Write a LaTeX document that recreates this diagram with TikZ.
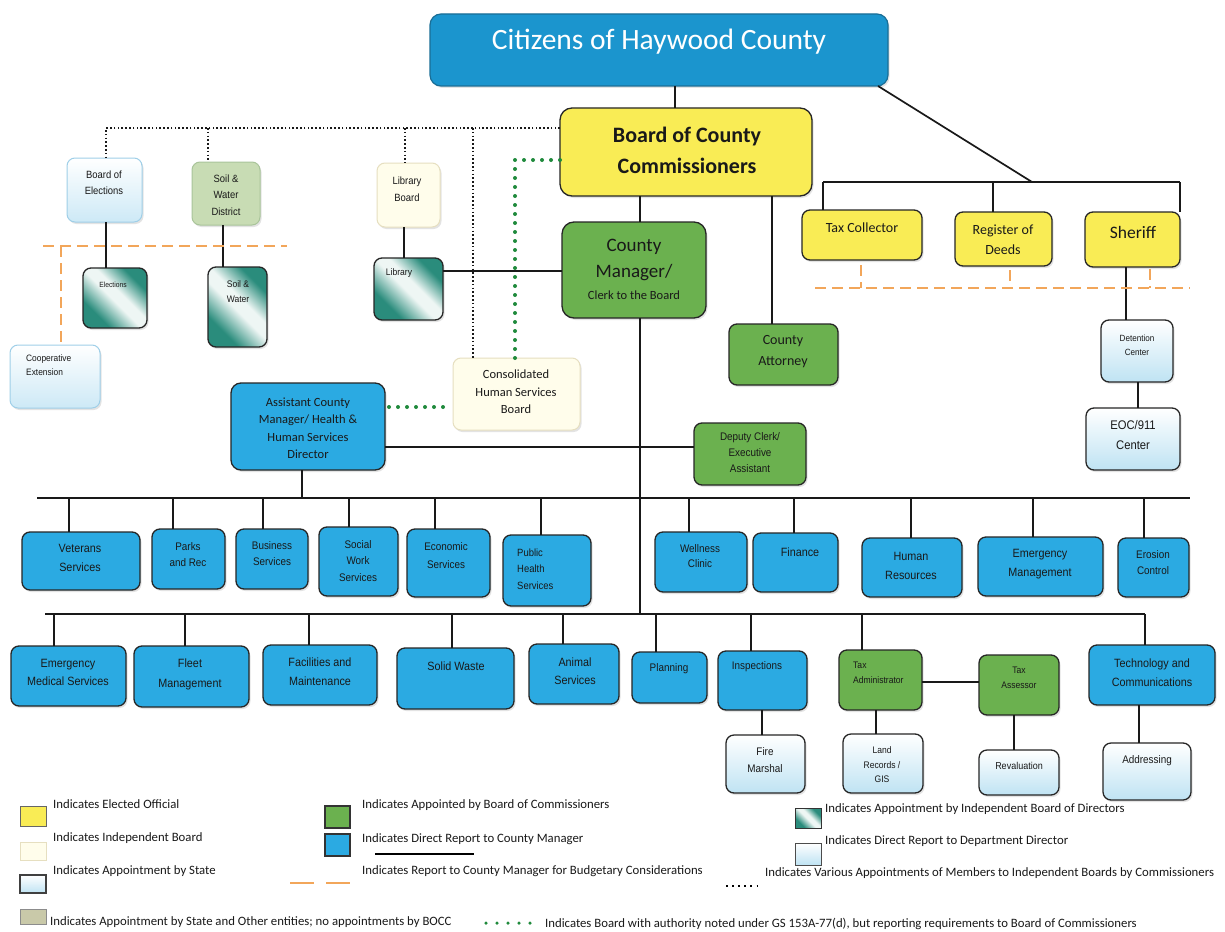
\documentclass[tikz,border=0pt]{standalone}
\usepackage{fontspec}
\setmainfont{Carlito}
\newfontfamily\arn{Liberation Sans}[FakeStretch=0.9]
\usetikzlibrary{calc,shadows}
\definecolor{citblue}{HTML}{1B95CE}
\definecolor{citborder}{HTML}{1A6E96}
\definecolor{yel}{HTML}{F9EC55}
\definecolor{grn}{HTML}{6BB14F}
\definecolor{blu}{HTML}{2BAAE2}
\definecolor{pale}{HTML}{BFE3F3}
\definecolor{palel}{HTML}{CDE9F6}
\definecolor{paleb}{HTML}{9FCFE8}
\definecolor{cream}{HTML}{FFFDEB}
\definecolor{creamb}{HTML}{E6DFC0}
\definecolor{sage}{HTML}{C8DCB4}
\definecolor{sageb}{HTML}{A9C49A}
\definecolor{tealg}{HTML}{2A8C7C}
\definecolor{teall}{HTML}{EEF6F4}
\definecolor{orng}{HTML}{F2A65A}
\definecolor{dgreen}{HTML}{1F8A3C}
\definecolor{legsage}{HTML}{C9C9A9}
\pgfdeclareverticalshading{tealsh}{100bp}{color(0bp)=(tealg); color(30bp)=(tealg); color(48bp)=(teall); color(56bp)=(teall); color(72bp)=(tealg); color(100bp)=(tealg)}
\newcommand\arf[2]{\arn\fontsize{#1}{#2}\selectfont}
\newcommand\clf[2]{\fontsize{#1}{#2}\selectfont}
\newcommand\mkbox[6]{%
 \pgfmathsetmacro\mkcx{(#2+#4)/2}%
 \pgfmathsetmacro\mkcy{(#3+#5)/2}%
 \pgfmathsetmacro\mkw{#4-#2}%
 \pgfmathsetmacro\mkh{#5-#3}%
 \node[#6, minimum width=\mkw pt, minimum height=\mkh pt] (#1) at (\mkcx,\mkcy) {};}
\tikzset{
 bx/.style={rectangle, rounded corners=8pt, line width=1.3pt, draw=black!85, inner sep=0pt, outer sep=0pt,
   drop shadow={opacity=0.22, shadow xshift=1.5pt, shadow yshift=-2pt}},
 elect/.style={bx, fill=yel},
 appt/.style={bx, fill=grn},
 drep/.style={bx, fill=blu},
 dirr/.style={bx, top color=white, bottom color=pale},
 stat/.style={bx, draw=paleb, line width=1pt, top color=white, bottom color=palel},
 indb/.style={bx, draw=creamb, line width=1pt, fill=cream},
 sagebox/.style={bx, draw=sageb, line width=1pt, fill=sage},
 tealbox/.style={bx, shading=tealsh, shading angle=-45},
 tx/.style={align=center, inner sep=0pt, text=black!90},
 ln/.style={line width=2.4pt, draw=black!90},
 lnt/.style={line width=1.7pt, draw=black!90},
 dotl/.style={line width=1.6pt, draw=black!90, dash pattern=on 1.6pt off 2.2pt},
 gdot/.style={draw=dgreen, line width=4pt, line cap=round, dash pattern=on 0pt off 9pt},
 odash/.style={draw=orng, line width=1.4pt, dash pattern=on 11pt off 6pt},
 leg/.style={anchor=west, inner sep=0pt, font=\clf{12.75}{14}, text=black!90},
 sw/.style={rectangle, inner sep=0pt, outer sep=0pt, line width=1pt}
}
\begin{document}
\begin{tikzpicture}[x=1pt,y=-1pt]
\useasboundingbox (0,0) rectangle (1225,931);
\fill[white] (0,0) rectangle (1225,931);

\coordinate (dotL) at (106,128);
\coordinate (gd) at (515,160);
\coordinate (tbarL) at (823,182);
\coordinate (tbarR) at (1180,182);
\coordinate (oL) at (43,246);
\coordinate (oR) at (287,246);
\coordinate (oRL) at (815,288);
\coordinate (oRR) at (1190,288);
\coordinate (b1L) at (37,498);
\coordinate (b1R) at (1190,498);
\coordinate (b2L) at (45,614);
\coordinate (b2R) at (1145,614);

% ---------- boxes ----------
\mkbox{cit}{430}{14}{888}{86}{bx, rounded corners=11pt, fill=citblue, draw=citborder, line width=1.2pt}
\mkbox{boc}{560}{108}{812}{196}{elect, rounded corners=12pt}
\mkbox{cm}{562}{222}{706}{318}{appt, rounded corners=12pt}
\mkbox{att}{729}{324}{838}{385}{appt}
\mkbox{taxc}{802}{210}{922}{260}{elect}
\mkbox{reg}{955}{212}{1052}{266}{elect}
\mkbox{sher}{1085}{212}{1180}{267}{elect}
\mkbox{det}{1101}{320}{1173}{382}{dirr}
\mkbox{eoc}{1086}{408}{1180}{470}{dirr}
\mkbox{dep}{694}{423}{806}{485}{appt}
\mkbox{acm}{231}{383}{385}{470}{drep, rounded corners=10pt}
\mkbox{chs}{453}{358}{580}{430}{indb}
\mkbox{boe}{67}{158}{142}{222}{stat}
\mkbox{swd}{192}{162}{260}{225}{sagebox}
\mkbox{lbd}{377}{163}{440}{227}{indb}
\mkbox{elec}{83}{268}{147}{328}{tealbox}
\mkbox{swr}{208}{267}{267}{347}{tealbox}
\mkbox{lib}{374}{258}{443}{320}{tealbox}
\mkbox{coop}{10}{345}{100}{408}{stat}
% row 1
\mkbox{vet}{22}{532}{140}{590}{drep}
\mkbox{parks}{152}{529}{225}{589}{drep}
\mkbox{bus}{236}{529}{308}{589}{drep}
\mkbox{soc}{319}{527}{398}{596}{drep}
\mkbox{eco}{407}{529}{490}{597}{drep}
\mkbox{pub}{503}{535}{591}{606}{drep}
\mkbox{well}{655}{532}{747}{592}{drep}
\mkbox{fin}{753}{533}{838}{592}{drep}
\mkbox{hr}{862}{538}{962}{597}{drep}
\mkbox{em}{978}{537}{1103}{596}{drep}
\mkbox{ero}{1118}{538}{1189}{597}{drep}
% row 2
\mkbox{ems}{11}{646}{126}{706}{drep}
\mkbox{fleet}{134}{646}{249}{707}{drep}
\mkbox{fac}{263}{645}{377}{705}{drep}
\mkbox{sol}{397}{648}{514}{709}{drep}
\mkbox{ani}{529}{644}{619}{704}{drep}
\mkbox{plan}{632}{652}{707}{703}{drep}
\mkbox{insp}{718}{651}{807}{710}{drep}
\mkbox{tadm}{839}{650}{922}{710}{appt}
\mkbox{tass}{979}{655}{1059}{715}{appt}
\mkbox{tech}{1089}{645}{1215}{705}{drep}
\mkbox{fire}{726}{735}{805}{793}{dirr}
\mkbox{land}{843}{734}{923}{793}{dirr}
\mkbox{rev}{979}{750}{1059}{795}{dirr}
\mkbox{addr}{1103}{743}{1191}{800}{dirr}

% ---------- connectors ----------
\draw[lnt] (cit.south -| 675,0) -- (boc.north -| 675,0);
\draw[lnt] (cit.south -| 878,0) -- (tbarL -| 1032,0);
\draw[lnt] (tbarL) -- (tbarR);
\draw[lnt] (tbarL) -- (taxc.north -| tbarL);
\draw[lnt] (tbarL -| 993,0) -- (reg.north -| 993,0);
\draw[lnt] (tbarR) -- (sher.north -| tbarR);
\draw[lnt] (boc.south -| 772,0) -- (att.north -| 772,0);
\draw[lnt] (boc.south -| 640,0) -- (cm.north -| 640,0);
\draw[ln] (cm.south -| 640,0) -- (b2L -| 640,0);
\draw[ln, line width=2.8pt] (acm.east |- 0,447) -- (dep.west |- 0,447);
\draw[ln] (acm.south -| 302,0) -- (b1L -| 302,0);
\draw[lnt] (lib.east |- 0,271) -- (cm.west |- 0,271);
\draw[ln] (lbd.south -| 404,0) -- (lib.north -| 404,0);
\draw[ln] (boe.south -| 106,0) -- (elec.north -| 106,0);
\draw[ln] (swd.south -| 223,0) -- (swr.north -| 223,0);
\draw[ln] (sher.south -| 1126,0) -- (det.north -| 1126,0);
\draw[ln] (det.south -| 1138,0) -- (eoc.north -| 1138,0);
% dotted appointments
\draw[dotl] (boc.west |- dotL) -- (dotL) -- (boe.north -| dotL);
\draw[dotl] (dotL -| 208,0) -- (swd.north -| 208,0);
\draw[dotl] (dotL -| 405,0) -- (lbd.north -| 405,0);
\draw[dotl] (dotL -| 473,0) -- (chs.north -| 473,0);
% green dotted
\draw[gdot] (boc.west |- gd) -- (gd) -- (chs.north -| gd);
\draw[gdot, shorten <=4pt, shorten >=3pt] (acm.east |- 0,407) -- (chs.west |- 0,407);
% orange dashed
\draw[odash] (oL) -- (oR);
\draw[odash] (oL -| 61,0) -- (coop.north -| 61,0);
\draw[odash] (oRL) -- (oRR);
\draw[odash, shorten <=5pt] (taxc.south -| 861,0) -- (oRL -| 861,0);
\draw[odash, shorten <=4pt] (reg.south -| 1010,0) -- (oRL -| 1010,0);
\draw[odash, shorten <=2pt] (sher.south -| 1150,0) -- (oRL -| 1150,0);
% bars
\draw[ln] (b1L) -- (b1R);
\draw[ln] (b2L) -- (b2R);
\foreach \xx/\nn in {69/vet,173/parks,263/bus,349/soc,435/eco,541/pub,689/well,794/fin,911/hr,1033/em,1144/ero}
  \draw[ln] (b1L -| \xx,0) -- (\nn.north -| \xx,0);
\foreach \xx/\nn in {54/ems,185/fleet,309/fac,452/sol,563/ani,656/plan,751/insp,862/tadm,1145/tech}
  \draw[ln] (b2L -| \xx,0) -- (\nn.north -| \xx,0);
\draw[ln] (insp.south -| 762,0) -- (fire.north -| 762,0);
\draw[ln] (tadm.south -| 876,0) -- (land.north -| 876,0);
\draw[ln] (tass.south -| 1014,0) -- (rev.north -| 1014,0);
\draw[ln] (tech.south -| 1139,0) -- (addr.north -| 1139,0);
\draw[ln] (tadm.east |- 0,682) -- (tass.west |- 0,682);

% ---------- texts ----------
\node[tx, text=white, font=\clf{29.5}{34}] (cit-t) at (659,42) {Citizens of Haywood County};
\node[tx, font=\bfseries\clf{22}{31}] (boc-t) at (687,150) {Board of County\\Commissioners};
\node[tx, font=\clf{19}{26}] (cm-t) at (634,260) {County\\Manager/};
\node[tx, font=\clf{12.5}{14}] (cm-t2) at (634,295) {Clerk to the Board};
\node[tx, font=\clf{14}{21}] (att-t) at (783,352) {County\\Attorney};
\node[tx, font=\clf{14}{16}] (taxc-t) at (862,228) {Tax Collector};
\node[tx, font=\clf{14}{20}] (reg-t) at (1003,240) {Register of\\Deeds};
\node[tx, font=\clf{17.5}{20}] (sher-t) at (1133,232) {Sheriff};
\node[tx, font=\arf{9}{14}] (det-t) at (1137,345) {Detention\\Center};
\node[tx, font=\arf{12.5}{20}] (eoc-t) at (1133,435) {EOC/911\\Center};
\node[tx, font=\arf{11}{16}] (dep-t) at (750,453) {Deputy Clerk/\\Executive\\Assistant};
\node[tx, font=\clf{12.5}{17.5}] (acm-t) at (308,428) {Assistant County\\Manager/ Health \&\\Human Services\\Director};
\node[tx, font=\clf{12.5}{17.5}] (chs-t) at (516,392) {Consolidated\\Human Services\\Board};
\node[tx, font=\arf{10.5}{16}] (boe-t) at (104,183) {Board of\\Elections};
\begin{scope}
\clip (192,162) rectangle (260,214);
\node[tx, font=\arf{10.5}{16.5}] (swd-t) at (226,195) {Soil \&\\Water\\District};
\end{scope}
\node[tx, font=\arf{10.5}{16.5}] (lbd-t) at (407,189) {Library\\Board};
\node[tx, font=\arf{7.5}{8}] (elec-t) at (113,285) {Elections};
\node[tx, font=\arf{9.5}{15}] (swr-t) at (238,292) {Soil \&\\Water};
\node[tx, font=\arf{9.5}{10}] (lib-t) at (399,273) {Library};
\node[tx, align=left, anchor=west, font=\arf{9.3}{14}] (coop-t) at (26,365) {Cooperative\\Extension};
% row 1 texts
\node[tx, font=\arf{12}{19}] (vet-t) at (80,558) {Veterans\\Services};
\node[tx, font=\arf{11}{16}] (parks-t) at (188,555) {Parks\\and Rec};
\node[tx, font=\arf{11}{16}] (bus-t) at (272,554) {Business\\Services};
\node[tx, font=\arf{11}{16.5}] (soc-t) at (358,561) {Social\\Work\\Services};
\node[tx, font=\arf{11}{18}] (eco-t) at (446,556) {Economic\\Services};
\node[tx, align=left, anchor=west, font=\arf{10.5}{16.5}] (pub-t) at (517,569) {Public\\Health\\Services};
\node[tx, font=\arf{11}{15}] (well-t) at (700,556) {Wellness\\Clinic};
\node[tx, font=\arf{12}{14}] (fin-t) at (800,552) {Finance};
\node[tx, font=\arf{12}{19}] (hr-t) at (911,566) {Human\\Resources};
\node[tx, font=\arf{12}{19}] (em-t) at (1040,564) {Emergency\\Management};
\node[tx, font=\arf{11}{16}] (ero-t) at (1153,563) {Erosion\\Control};
% row 2 texts
\node[tx, font=\arf{12}{18}] (ems-t) at (68,672) {Emergency\\Medical Services};
\node[tx, font=\arf{12}{20}] (fleet-t) at (190,674) {Fleet\\Management};
\node[tx, font=\arf{12}{19}] (fac-t) at (320,672) {Facilities and\\Maintenance};
\node[tx, font=\arf{12}{14}] (sol-t) at (456,666) {Solid Waste};
\node[tx, font=\arf{12}{18}] (ani-t) at (575,671) {Animal\\Services};
\node[tx, font=\arf{11}{13}] (plan-t) at (669,669) {Planning};
\node[tx, font=\arf{11}{13}] (insp-t) at (757,667) {Inspections};
\node[tx, align=left, anchor=west, font=\arf{9.5}{15}] (tadm-t) at (853,673) {Tax\\Administrator};
\node[tx, font=\arf{9.5}{15}] (tass-t) at (1019,678) {Tax\\Assessor};
\node[tx, font=\arf{12}{19}] (tech-t) at (1152,673) {Technology and\\Communications};
\node[tx, font=\arf{11}{17}] (fire-t) at (765,760) {Fire\\Marshal};
\node[tx, font=\arf{9.5}{14.5}] (land-t) at (882,765) {Land\\Records /\\GIS};
\node[tx, font=\arf{10}{12}] (rev-t) at (1019,766) {Revaluation};
\node[tx, font=\arf{11}{13}] (addr-t) at (1147,761) {Addressing};

% ---------- legend ----------
\node[sw, fill=yel, draw=black!60, minimum width=26pt, minimum height=20pt] (s1) at (33,816) {};
\node[sw, fill=cream, draw=creamb, minimum width=26pt, minimum height=18pt] (s2) at (33,851) {};
\node[sw, top color=white, bottom color=pale, draw=black!75, line width=1.2pt, minimum width=26pt, minimum height=18pt] (s3) at (33,884) {};
\node[sw, fill=legsage, draw=black!45, minimum width=26pt, minimum height=15pt] (s4) at (33,917) {};
\node[sw, fill=grn, draw=black!80, line width=1.2pt, minimum width=25pt, minimum height=22pt] (s5) at (337.5,817) {};
\node[sw, fill=blu, draw=black!80, line width=1.2pt, minimum width=25pt, minimum height=22pt] (s6) at (337.5,845) {};
\node[sw, shading=tealsh, shading angle=-45, draw=black!80, minimum width=26pt, minimum height=20pt] (s7) at (808,818) {};
\node[sw, top color=white, bottom color=pale, draw=black!70, minimum width=26pt, minimum height=22pt] (s8) at (808,854) {};
\coordinate (l1a) at (375,854); \coordinate (l1b) at (474,854);
\draw[line width=1.6pt] (l1a) -- (l1b);
\coordinate (l2a) at (290,883); \coordinate (l2b) at (350,883);
\draw[draw=orng, line width=1.8pt, dash pattern=on 24pt off 12pt] (l2a) -- (l2b);
\coordinate (l3a) at (726,886); \coordinate (l3b) at (762,886);
\draw[line width=1.5pt, dash pattern=on 1.5pt off 4.6pt] (l3a) -- (l3b);
\coordinate (l4a) at (486,923); \coordinate (l4b) at (531,923);
\draw[draw=dgreen, line width=3.5pt, line cap=round, dash pattern=on 0pt off 11pt] (l4a) -- (l4b);

\node[leg] (t1) at (53,804) {Indicates Elected Official};
\node[leg] (t2) at (53,838) {Indicates Independent Board};
\node[leg] (t3) at (53,871) {Indicates Appointment by State};
\node[leg] (t4) at (50,922) {Indicates Appointment by State and Other entities; no appointments by BOCC};
\node[leg] (t5) at (362,805) {Indicates Appointed by Board of Commissioners};
\node[leg] (t6) at (362,839) {Indicates Direct Report to County Manager};
\node[leg] (t7) at (362,871) {Indicates Report to County Manager for Budgetary Considerations};
\node[leg] (t8) at (545,924) {Indicates Board with authority noted under GS 153A-77(d), but reporting requirements to Board of Commissioners};
\node[leg] (t9) at (825,809) {Indicates Appointment by Independent Board of Directors};
\node[leg] (t10) at (825,841) {Indicates Direct Report to Department Director};
\node[leg] (t11) at (765,873) {Indicates Various Appointments of Members to Independent Boards by Commissioners};
\end{tikzpicture}
\end{document}
